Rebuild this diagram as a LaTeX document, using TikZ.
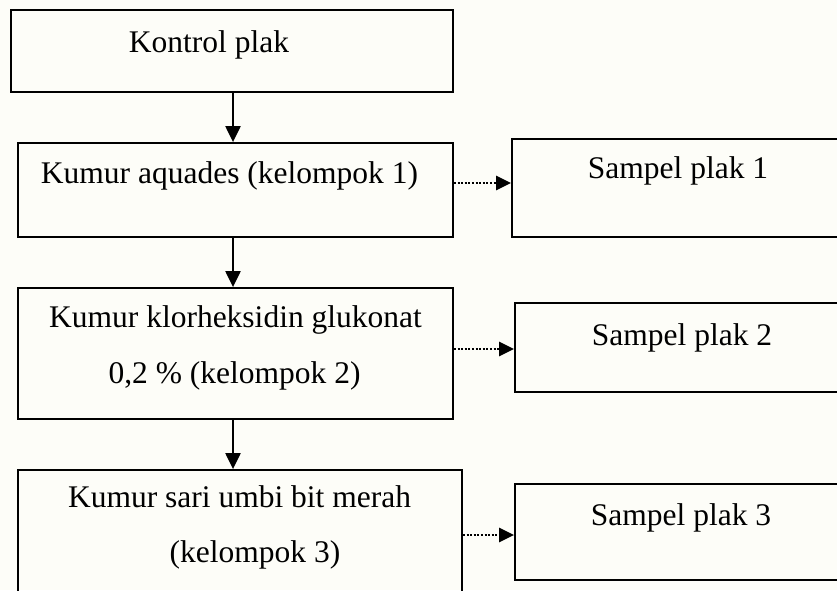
\documentclass[tikz,border=0pt]{standalone}
\usepackage{fontspec}
\setmainfont{Liberation Serif}
\usetikzlibrary{arrows.meta}
\definecolor{bgcream}{RGB}{253,253,248}
\tikzset{
  box/.style={draw=black, line width=1.8pt, inner sep=0pt},
  topbox/.style={box, line width=2.4pt},
  txt/.style={inner sep=0pt, anchor=base, font=\fontsize{31.5}{37}\selectfont},
  flow/.style={draw=black, line width=2.2pt, -{Triangle[length=16pt,width=15pt]}},
  side/.style={draw=black, line width=2.4pt, dash pattern=on 2pt off 1.6pt, -{Triangle[length=15pt,width=14pt]}}
}
\begin{document}
\begin{tikzpicture}[x=1pt,y=-1pt]
\useasboundingbox (0,0) rectangle (837,590);
\fill[bgcream] (0,0) rectangle (837,590);
\clip (0,0) rectangle (837,590);
% left column boxes
\node[topbox, minimum width=442pt, minimum height=82pt] (b0) at (232,51) {};
\node[box, minimum width=435pt, minimum height=94pt] (b1) at (235.5,190) {};
\node[box, minimum width=435pt, minimum height=131pt] (b2) at (235.5,353.5) {};
\node[box, minimum width=444pt, minimum height=140pt] (b3) at (240,540) {};
% right column boxes
\node[box, minimum width=340pt, minimum height=98pt] (s1) at (682,188) {};
\node[box, minimum width=340pt, minimum height=89pt] (s2) at (685,347.5) {};
\node[box, minimum width=340pt, minimum height=96pt] (s3) at (685,532) {};
% texts
\node[txt] (t0) at (209,52) {Kontrol plak};
\node[txt] (t1) at (229.5,183) {Kumur aquades (kelompok 1)};
\node[txt] (t2a) at (235.5,327) {Kumur klorheksidin glukonat};
\node[txt] (t2b) at (234.5,383) {0,2 \% (kelompok 2)};
\node[txt] (t3a) at (239.5,507) {Kumur sari umbi bit merah};
\node[txt] (t3b) at (255,562) {(kelompok 3)};
\node[txt] (u1) at (678,178) {Sampel plak 1};
\node[txt] (u2) at (682,345) {Sampel plak 2};
\node[txt] (u3) at (681,525) {Sampel plak 3};
% connectors
\draw[flow] (b0.south -| 233,0) -- (b1.north -| 233,0);
\draw[flow] (b1.south -| 233,0) -- (b2.north -| 233,0);
\draw[flow] (b2.south -| 233,0) -- (b3.north -| 233,0);
\draw[side] (b1.east |- 0,183) -- (s1.west |- 0,183);
\draw[side] (b2.east |- 0,349) -- (s2.west |- 0,349);
\draw[side] (b3.east |- 0,535) -- (s3.west |- 0,535);
\end{tikzpicture}
\end{document}
